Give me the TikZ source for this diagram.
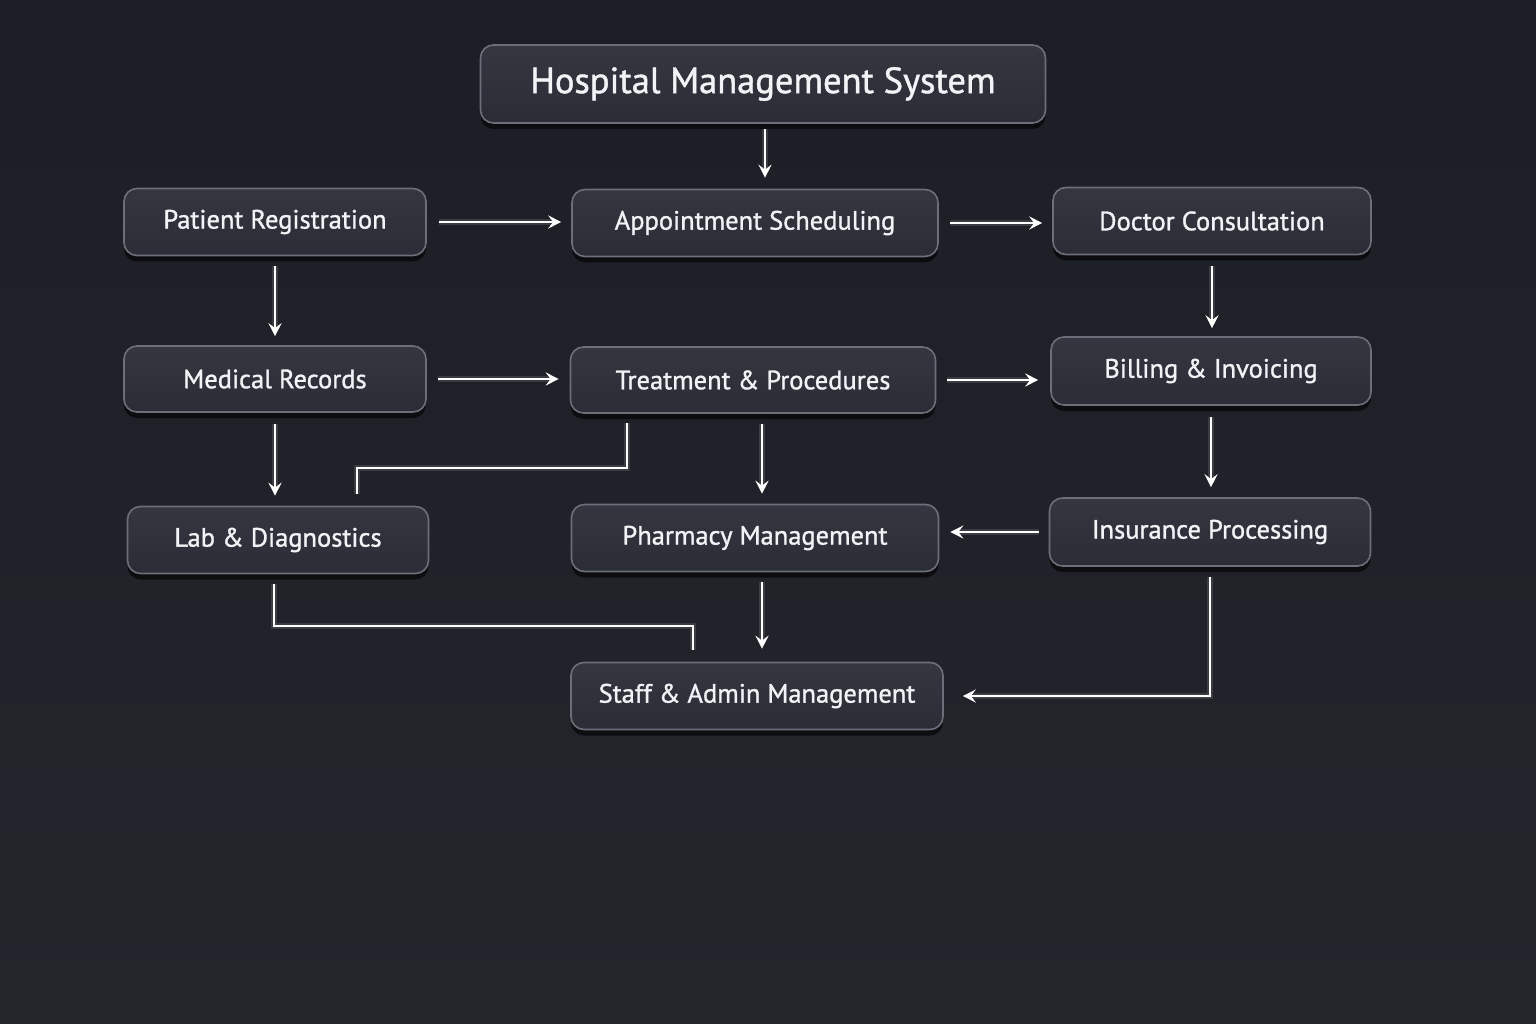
\documentclass[tikz,border=0pt]{standalone}
\usepackage{fontspec}
\setmainfont{PT Sans}[FakeBold=1.2]
\newfontfamily\medfont{PT Sans}[FakeBold=1.2]
\usetikzlibrary{arrows.meta,shadows,calc}
\definecolor{bgtop}{RGB}{28,30,38}
\definecolor{bgbot}{RGB}{37,38,44}
\definecolor{boxfill}{RGB}{42,44,54}
\definecolor{boxtop}{RGB}{52,54,64}
\definecolor{boxline}{RGB}{108,111,122}
\definecolor{txt}{RGB}{242,243,246}
\tikzset{
  box/.style={draw=boxline, line width=1.6pt, rounded corners=13pt,
    top color=boxtop, bottom color=boxfill,
    text=txt, font=\medfont\fontsize{26.5}{30}\selectfont\addfontfeature{FakeBold=1.2}, inner sep=0pt,
    drop shadow={shadow xshift=0pt, shadow yshift=-6pt, opacity=0.6, fill=black}},
  conn/.style={draw=white, line width=2.2pt,
    preaction={draw=white, line width=6pt, opacity=0.12}},
  arr/.style={conn, -{Stealth[length=13pt,width=13pt,inset=5pt]}},
}
\begin{document}
\begin{tikzpicture}[x=1pt,y=-1pt]
\shade[top color=bgtop, bottom color=bgbot] (0,0) rectangle (1536,1024);
\useasboundingbox (0,0) rectangle (1536,1024);

\node[box, minimum width=565pt, minimum height=78pt, font=\medfont\fontsize{36.5}{42}\selectfont\addfontfeature{FakeBold=1.2}] (HMS) at (763,84) {Hospital Management System};
\node[box, minimum width=302pt, minimum height=67pt] (PR) at (275,222) {Patient Registration};
\node[box, minimum width=366pt, minimum height=67pt] (AS) at (755,223) {Appointment Scheduling};
\node[box, minimum width=318pt, minimum height=67pt] (DC) at (1212,221) {Doctor Consultation};
\node[box, minimum width=302pt, minimum height=66pt] (MR) at (275,379) {Medical Records};
\node[box, minimum width=365pt, minimum height=66pt] (TP) at (753,380) {Treatment \& Procedures};
\node[box, minimum width=320pt, minimum height=68pt] (BI) at (1211,371) {Billing \& Invoicing};
\node[box, minimum width=301pt, minimum height=67pt] (LD) at (278,540) {Lab \& Diagnostics};
\node[box, minimum width=367pt, minimum height=67pt] (PM) at (755,538) {Pharmacy Management};
\node[box, minimum width=321pt, minimum height=68pt] (IP) at (1210,532) {Insurance Processing};
\node[box, minimum width=372pt, minimum height=67pt] (SA) at (757,696) {Staff \& Admin Management};

% coordinates for offset connectors
\coordinate (hmsA) at ($(HMS.south)+(2,0)$);
\coordinate (tpA) at ($(TP.south)+(9,0)$);
\coordinate (tpB) at ($(TP.south)+(-126,0)$);
\coordinate (ldA) at ($(LD.north)+(79,0)$);
\coordinate (pmA) at ($(PM.south)+(7,0)$);
\coordinate (ldB) at ($(LD.south)+(-4,0)$);
\coordinate (saA) at ($(SA.north)+(-64,0)$);

\draw[arr, shorten <=5pt, shorten >=11pt] (hmsA) -- (hmsA |- AS.north);
\draw[arr, shorten <=12pt, shorten >=10pt] (PR.east) -- (PR.east -| AS.west);
\draw[arr, shorten <=11pt, shorten >=10pt] (AS.east) -- (AS.east -| DC.west);
\draw[arr, shorten <=10pt, shorten >=9pt] (PR.south) -- (PR.south |- MR.north);
\draw[arr, shorten <=11pt, shorten >=8pt] (DC.south) -- (DC.south |- BI.north);
\draw[arr, shorten <=11pt, shorten >=11pt] (MR.east) -- (MR.east -| TP.west);
\draw[arr, shorten <=11pt, shorten >=12pt] (TP.east) -- (TP.east -| BI.west);
\draw[arr, shorten <=11pt, shorten >=10pt] (MR.south) -- (MR.south |- LD.north);
\draw[conn, shorten <=9pt, shorten >=12pt] (tpB) -- ++(0,54) -| (ldA);
\draw[arr, shorten <=10pt, shorten >=10pt] (tpA) -- (tpA |- PM.north);
\draw[arr, shorten <=11pt, shorten >=10pt] (BI.south) -- (BI.south |- IP.north);
\draw[arr, shorten <=10pt, shorten >=11pt] (IP.west) -- (IP.west -| PM.east);
\draw[arr, shorten <=10pt, shorten >=13pt] (pmA) -- (pmA |- SA.north);
\draw[conn, shorten <=10pt, shorten >=12pt] (ldB) -- ++(0,52) -| (saA);
\draw[arr, shorten <=10pt, shorten >=19pt] (IP.south) |- (SA.east);
\end{tikzpicture}
\end{document}
